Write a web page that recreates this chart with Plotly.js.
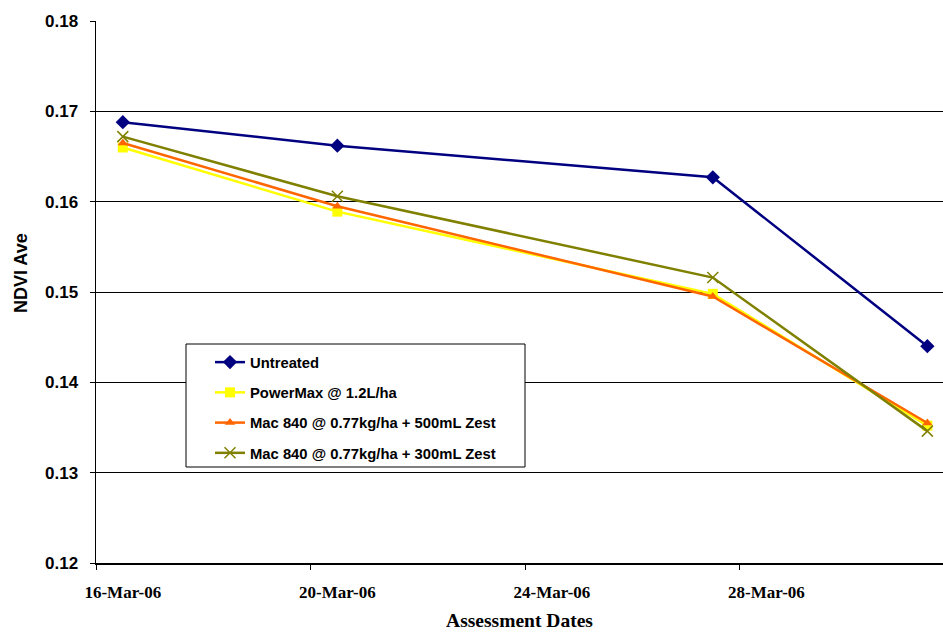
<!DOCTYPE html>
<html>
<head>
<meta charset="utf-8">
<script src="https://cdn.plot.ly/plotly-3.0.1.min.js"></script>
<style>html,body{margin:0;padding:0;background:#fff;}#chart{width:943px;height:632px;}</style>
</head>
<body>
<div id="chart"></div>
<script>
var dates = ['2006-03-16', '2006-03-20', '2006-03-27', '2006-03-31'];
var seriesNames = ['Untreated', 'PowerMax @ 1.2L/ha', 'Mac 840 @ 0.77kg/ha + 500mL Zest', 'Mac 840 @ 0.77kg/ha + 300mL Zest'];
var untreated = [0.1688, 0.1662, 0.1627, 0.1440];
var powerMax = [0.1660, 0.1589, 0.1498, 0.1352];
var mac500 = [0.1665, 0.1595, 0.1495, 0.1355];
var mac300 = [0.1672, 0.1606, 0.1516, 0.1346];
var tickDates = ['2006-03-16', '2006-03-20', '2006-03-24', '2006-03-28'];
var tickLabels = ['16-Mar-06', '20-Mar-06', '24-Mar-06', '28-Mar-06'];
var tickMarkDates = ['2006-03-15 12:00', '2006-03-19 12:00', '2006-03-23 12:00', '2006-03-27 12:00'];
var yTickVals = [0.12, 0.13, 0.14, 0.15, 0.16, 0.17, 0.18];
var yTickLabels = ['0.12', '0.13', '0.14', '0.15', '0.16', '0.17', '0.18'];
var xTitle = 'Assessment Dates';
var yTitle = 'NDVI Ave';
var xRange = ['2006-03-15 12:00', '2006-03-31 07:00'];

var colors = ['#000080', '#FFFF00', '#FF6600', '#808000'];
var symbols = ['diamond', 'square', 'triangle-up', 'x-thin-open'];
var sizes = [11, 10, 9, 11];
var values = [untreated, powerMax, mac500, mac300];

var W = 943, H = 632, ML = 96, MR = 0, MT = 21, MB = 69;
var pw = W - ML - MR, ph = H - MT - MB;
function px2x(p) { return (p - ML) / pw; }
function px2y(p) { return 1 - (p - MT) / ph; }

var traces = values.map(function (v, i) {
  return {
    x: dates, y: v, name: '<b>' + seriesNames[i] + '</b>', type: 'scatter', mode: 'lines+markers',
    legendgroup: 'g' + i,
    line: {color: colors[i], width: 2.5},
    marker: {symbol: symbols[i], size: sizes[i], color: colors[i],
             line: {color: colors[i], width: i === 3 ? 1.5 : 0}},
    xaxis: 'x', yaxis: 'y'
  };
});
traces.push({x: xRange, y: [null, null], xaxis: 'x2', yaxis: 'y', showlegend: false, hoverinfo: 'skip', mode: 'lines'});

var layout = {
  width: W, height: H,
  margin: {l: ML, r: MR, t: MT, b: MB},
  paper_bgcolor: '#ffffff', plot_bgcolor: '#ffffff',
  showlegend: true,
  legend: {
    x: px2x(210), y: px2y(346), xanchor: 'left', yanchor: 'top',
    bgcolor: 'rgba(0,0,0,0)', borderwidth: 0,
    font: {family: 'Liberation Sans, Arial, sans-serif', size: 14.8, color: '#000'},
    tracegroupgap: 8, itemwidth: 30
  },
  shapes: [{
    type: 'rect', xref: 'paper', yref: 'paper', layer: 'above',
    x0: px2x(186), x1: px2x(525), y0: px2y(344), y1: px2y(467),
    fillcolor: '#ffffff', line: {color: '#000000', width: 1}
  }],
  annotations: [{
    text: '<b>' + yTitle + '</b>', textangle: -90, showarrow: false,
    xref: 'paper', yref: 'paper', x: px2x(21), y: px2y(273), xanchor: 'center', yanchor: 'middle',
    font: {family: 'Liberation Sans, Arial, sans-serif', size: 18, color: '#000'}
  }],
  xaxis: {
    type: 'date', range: xRange,
    tickmode: 'array', tickvals: tickDates, ticktext: tickLabels.map(function (t) { return '<b>' + t + '</b>'; }),
    ticks: '', showgrid: false, zeroline: false, ticklabelstandoff: 13,
    showline: true, linecolor: '#000', linewidth: 2,
    tickfont: {family: 'Liberation Serif, Times New Roman, serif', size: 17, color: '#000'},
    title: {text: '<b>' + xTitle + '</b>', font: {family: 'Liberation Serif, Times New Roman, serif', size: 19.5, color: '#000'}, standoff: 12}
  },
  xaxis2: {
    type: 'date', range: xRange, overlaying: 'x', anchor: 'y',
    tickmode: 'array', tickvals: tickMarkDates, ticks: 'outside', ticklen: 6, tickwidth: 1, tickcolor: '#000',
    showticklabels: false, showgrid: false, zeroline: false, showline: false
  },
  yaxis: {
    range: [0.12, 0.18], tickmode: 'array', tickvals: yTickVals,
    ticktext: yTickLabels.map(function (t) { return '<b>' + t + '</b>'; }),
    ticks: 'outside', ticklen: 5, tickcolor: '#000', ticklabelstandoff: 8,
    showgrid: true, gridcolor: '#000', gridwidth: 1, zeroline: false,
    showline: true, linecolor: '#000', linewidth: 1.5,
    tickfont: {family: 'Liberation Sans, Arial, sans-serif', size: 17, color: '#000'}
  }
};

Plotly.newPlot('chart', traces, layout, {displayModeBar: false, staticPlot: true});
</script>
</body>
</html>
